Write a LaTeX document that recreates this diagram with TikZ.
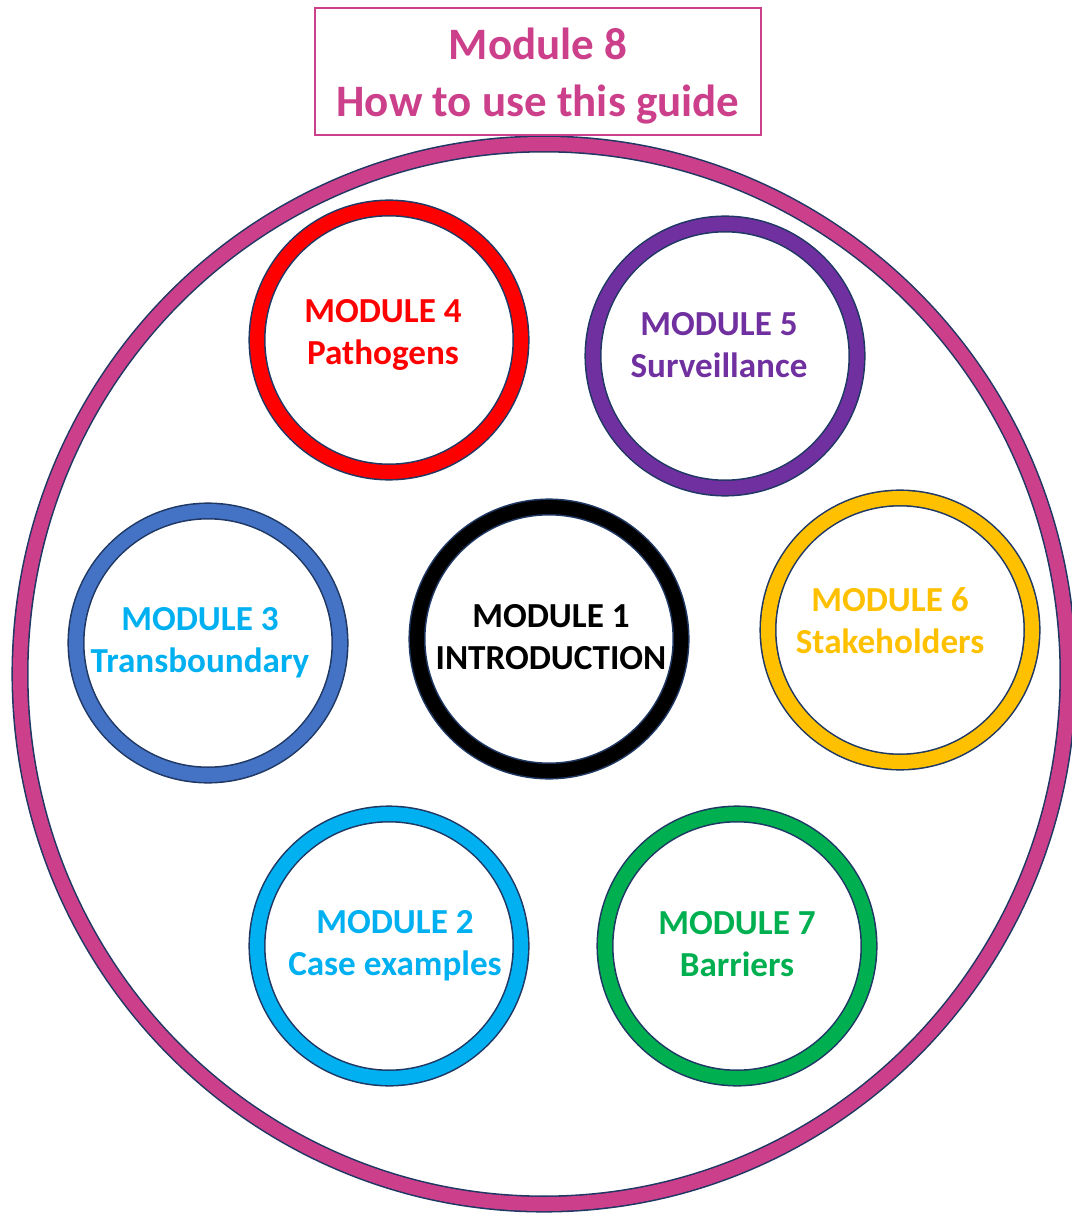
\documentclass[tikz,border=0pt]{standalone}
\usepackage{fontspec}
\setmainfont{Carlito}

\definecolor{navyline}{HTML}{1F3864}
\definecolor{guidepink}{HTML}{CC3F8A}
\definecolor{modred}{HTML}{FF0000}
\definecolor{modpurple}{HTML}{7030A0}
\definecolor{modblue}{HTML}{4472C4}
\definecolor{modcyan}{HTML}{00B0F0}
\definecolor{modgold}{HTML}{FFC000}
\definecolor{modgreen}{HTML}{00B050}

\begin{document}
\begin{tikzpicture}[
    ring/.style={
        circle,
        draw=navyline,
        line width=1.1pt,
        double=#1,
        double distance=0.35cm,
        minimum size=6.6cm,
        inner sep=0pt
    },
    modtext/.style={
        align=center,
        inner sep=0pt,
        font=\fontsize{25}{30}\selectfont\bfseries
    },
    titlebox/.style={
        draw=guidepink,
        line width=1.4pt,
        fill=white,
        minimum width=11.15cm,
        minimum height=3.175cm
    },
    titletext/.style={
        align=center,
        text=guidepink,
        font=\fontsize{32}{40.5}\selectfont\bfseries
    }
]
\useasboundingbox (0,0) rectangle (26.775,-30.35);

% --- Cerchio esterno (modulo 8) ---
\draw[navyline, line width=1.1pt, double=guidepink, double distance=0.35cm]
    (13.6,-16.85) ellipse [x radius=13.1cm, y radius=13.25cm];

\node[titlebox] (M8) at (13.45,-1.79) {};
\node[titletext, yshift=-0.1cm] (M8txt) at (M8) {Module 8\\How to use this guide};

% --- Moduli interni ---
\node[ring=black] (M1) at (13.725,-15.975) {};
\node[ring=modcyan] (M2) at (9.725,-23.65) {};
\node[ring=modblue] (M3) at (5.2,-16.075) {};
\node[ring=modred] (M4) at (9.725,-8.5) {};
\node[ring=modpurple] (M5) at (18.125,-8.9) {};
\node[ring=modgold] (M6) at (22.5,-15.75) {};
\node[ring=modgreen] (M7) at (18.425,-23.65) {};

% --- Testi dei moduli ---
\node[modtext, text=black, xshift=0.05cm, yshift=0.05cm] (M1txt) at (M1) {MODULE 1\\INTRODUCTION};
\node[modtext, text=modcyan, xshift=0.15cm] (M2txt) at (M2) {MODULE 2\\Case examples};
\node[modtext, text=modcyan, xshift=-0.2cm] (M3txt) at (M3) {MODULE 3\\Transboundary};
\node[modtext, text=modred, xshift=-0.15cm, yshift=0.125cm] (M4txt) at (M4) {MODULE 4\\Pathogens};
\node[modtext, text=modpurple, xshift=-0.15cm, yshift=0.275cm] (M5txt) at (M5) {MODULE 5\\Surveillance};
\node[modtext, text=modgold, xshift=-0.25cm, yshift=0.225cm] (M6txt) at (M6) {MODULE 6\\Stakeholders};
\node[modtext, text=modgreen, yshift=0.05cm] (M7txt) at (M7) {MODULE 7\\Barriers};

\end{tikzpicture}
\end{document}
